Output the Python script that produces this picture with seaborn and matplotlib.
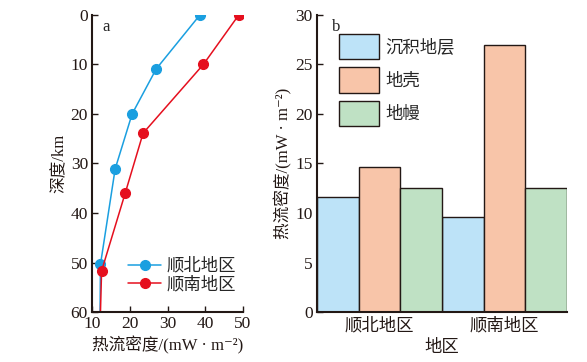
import matplotlib
matplotlib.use('Agg')
import matplotlib.pyplot as plt
import seaborn as sns
import pandas as pd

# 图a: 热流密度随深度变化
north_flow = [38.6, 27.0, 20.6, 16.1, 12.2, 12.1]
north_depth = [0, 10.9, 20.0, 31.1, 50.4, 60]
south_flow = [48.9, 39.5, 23.5, 18.8, 12.5, 12.2]
south_depth = [0, 10.0, 23.9, 35.9, 51.7, 60]

# 图b: 各层热流贡献
regions = ['顺北地区', '顺南地区']
layers = ['沉积地层', '地壳', '地幔']
north_vals = [11.6, 14.6, 12.5]
south_vals = [9.6, 27.0, 12.5]

sns.set_theme(style='ticks')
plt.rcParams['font.family'] = ['Liberation Serif', 'Noto Sans CJK SC', 'DejaVu Serif']
plt.rcParams['axes.unicode_minus'] = False

dark = '#231815'
unit_label = '热流密度/(mW · m⁻²)'

fig = plt.figure(figsize=(5.87, 3.62), dpi=100)
ax1 = fig.add_axes([0.157, 0.138, 0.257, 0.821])
ax2 = fig.add_axes([0.540, 0.138, 0.426, 0.821])

blue = '#1a9fe0'
red = '#e50f1e'
marks = list(range(5))
ax1.plot(north_flow, north_depth, color=blue, lw=1.1, marker='o', ms=7,
         markevery=marks, label='顺北地区')
ax1.plot(south_flow, south_depth, color=red, lw=1.1, marker='o', ms=7,
         markevery=marks, label='顺南地区')
ax1.set_xlim(10, 50)
ax1.set_ylim(60, 0)
ax1.set_xticks([10, 20, 30, 40, 50])
ax1.set_yticks([0, 10, 20, 30, 40, 50, 60])
ax1.set_xlabel(unit_label, fontsize=12, labelpad=3, color=dark)
ax1.set_ylabel('深度/km', fontsize=12, labelpad=2, color=dark)
ax1.tick_params(direction='in', labelsize=12.5, width=1, length=4, pad=3,
                colors=dark)
ax1.text(0.07, 0.985, 'a', transform=ax1.transAxes, fontsize=12, va='top')
ax1.legend(loc='lower right', frameon=False, fontsize=12.5, handlelength=1.9,
           borderaxespad=0.0, handletextpad=0.3, labelspacing=0.1,
           bbox_to_anchor=(1.0, 0.04))
sns.despine(ax=ax1)
for s in ['left', 'bottom']:
    ax1.spines[s].set_linewidth(1.5)
    ax1.spines[s].set_color(dark)

df = pd.DataFrame({
    '地区': [regions[0]] * 3 + [regions[1]] * 3,
    '层': layers * 2,
    '值': north_vals + south_vals,
})
colors = ['#bde3f8', '#f8c5a9', '#bfe1c4']
sns.barplot(data=df, x='地区', y='值', hue='层', palette=colors, width=1.0,
            saturation=1, edgecolor=dark, linewidth=1.0, ax=ax2, errorbar=None)
ax2.set_xlim(-0.5, 1.5)
ax2.set_ylim(0, 30)
ax2.set_yticks([0, 5, 10, 15, 20, 25, 30])
ax2.set_xlabel('地区', fontsize=12.5, labelpad=4, color=dark)
ax2.set_ylabel(unit_label, fontsize=12, labelpad=2, color=dark)
ax2.tick_params(axis='y', direction='in', labelsize=12.5, width=1, length=4,
                pad=3, colors=dark)
ax2.tick_params(axis='x', length=0, labelsize=12.5, pad=4, colors=dark)
ax2.text(0.06, 0.985, 'b', transform=ax2.transAxes, fontsize=12, va='top')
ax2.legend(loc='upper left', frameon=False, fontsize=12.5, handlelength=2.3,
           handleheight=1.85, borderaxespad=0.0, handletextpad=0.4,
           labelspacing=0.5, bbox_to_anchor=(0.06, 0.96), title=None)
sns.despine(ax=ax2)
for s in ['left', 'bottom']:
    ax2.spines[s].set_linewidth(1.5)
    ax2.spines[s].set_color(dark)

fig.savefig('out.png', dpi=100)
